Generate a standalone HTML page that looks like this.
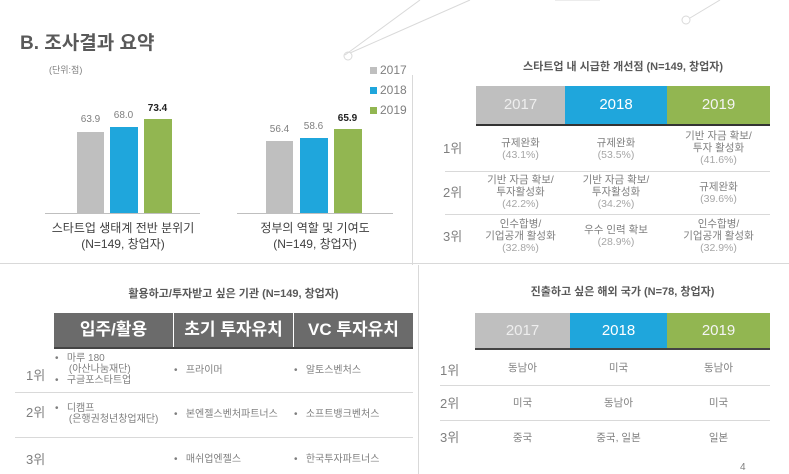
<!DOCTYPE html>
<html><head><meta charset="utf-8"><style>
*{margin:0;padding:0;box-sizing:border-box}
body{width:789px;height:474px;background:#fff;position:relative;overflow:hidden;font-family:"Liberation Sans","Noto Sans CJK KR",sans-serif;color:#595959}
.a{position:absolute;white-space:nowrap}
.c{text-align:center}
.bar{position:absolute}
.g{background:#bfbfbf}.b{background:#1fa6dc}.gr{background:#92b651}
.hl{position:absolute;height:1px;background:#d9d9d9}
.cell{position:absolute;text-align:center;font-size:10.5px;line-height:12px;color:#7f7f7f}
.cell span{color:#a6a6a6}
.hd{position:absolute;color:#fff;font-size:15px;text-align:center;line-height:38px}
.rk{position:absolute;font-size:13px;line-height:14px;color:#7f7f7f}
.bh{position:absolute;background:#6b6b6b;color:#fff;font-size:17px;font-weight:bold;text-align:center;line-height:34px;top:313px;height:34px}
.bl{position:absolute;font-size:10px;color:#7f7f7f;line-height:11px}
</style></head><body>
<svg class="a" style="left:0;top:0" width="789" height="474">
<g stroke="#d9d9d9" stroke-width="1" fill="none">
<line x1="345" y1="55" x2="420" y2="0"/><line x1="350" y1="53" x2="470" y2="0"/>
<line x1="555" y1="0" x2="600" y2="0"/><line x1="690" y1="18" x2="720" y2="0"/>
<circle cx="348" cy="56" r="4"/><circle cx="686" cy="20" r="4"/>
</g></svg>
<div class="a" style="left:20px;top:28px;font-size:19px;font-weight:bold;color:#595959">B. 조사결과 요약</div>
<div class="a" style="left:49px;top:63px;font-size:9px;color:#7f7f7f">(단위:점)</div>
<div class="a" style="left:370px;top:60px;font-size:12px;line-height:20px;color:#7f7f7f">
<div><span style="display:inline-block;width:7px;height:7px;background:#bfbfbf;margin-right:3px"></span>2017</div>
<div><span style="display:inline-block;width:7px;height:7px;background:#1fa6dc;margin-right:3px"></span>2018</div>
<div><span style="display:inline-block;width:7px;height:7px;background:#92b651;margin-right:3px"></span>2019</div></div>
<div style="position:absolute;left:412px;top:75px;width:1px;height:190px;background:#d9d9d9"></div>
<div style="position:absolute;left:418px;top:265px;width:1px;height:209px;background:#d9d9d9"></div>
<div class="hl" style="left:0;top:263px;width:789px"></div>
<!-- chart1 -->
<div class="hl" style="left:45px;top:213px;width:155px;background:#bfbfbf"></div>
<div class="bar g" style="left:77px;top:132px;width:27px;height:81px"></div>
<div class="bar b" style="left:110px;top:127px;width:28px;height:86px"></div>
<div class="bar gr" style="left:144px;top:119px;width:28px;height:94px"></div>
<div class="a c" style="left:72px;top:114px;width:37px;font-size:10px;color:#7f7f7f">63.9</div>
<div class="a c" style="left:105px;top:110px;width:37px;font-size:10px;color:#7f7f7f">68.0</div>
<div class="a c" style="left:139px;top:103px;width:37px;font-size:10px;font-weight:bold;color:#222">73.4</div>
<div class="a c" style="left:40px;top:220px;width:166px;font-size:12px;line-height:16px;color:#404040">스타트업 생태계 전반 분위기<br>(N=149, 창업자)</div>
<!-- chart2 -->
<div class="hl" style="left:237px;top:213px;width:156px;background:#bfbfbf"></div>
<div class="bar g" style="left:266px;top:141px;width:27px;height:72px"></div>
<div class="bar b" style="left:300px;top:138px;width:28px;height:75px"></div>
<div class="bar gr" style="left:334px;top:129px;width:28px;height:84px"></div>
<div class="a c" style="left:261px;top:124px;width:37px;font-size:10px;color:#7f7f7f">56.4</div>
<div class="a c" style="left:295px;top:121px;width:37px;font-size:10px;color:#7f7f7f">58.6</div>
<div class="a c" style="left:329px;top:113px;width:37px;font-size:10px;font-weight:bold;color:#222">65.9</div>
<div class="a c" style="left:232px;top:220px;width:166px;font-size:12px;line-height:16px;color:#404040">정부의 역할 및 기여도<br>(N=149, 창업자)</div>
<!-- top right -->
<div class="a c" style="left:476px;top:58px;width:294px;font-size:11px;font-weight:bold;color:#595959">스타트업 내 시급한 개선점 (N=149, 창업자)</div>
<div class="hd g" style="left:476px;top:86px;width:89px;color:#eee">2017</div>
<div class="hd b" style="left:565px;top:86px;width:102px">2018</div>
<div class="hd gr" style="left:667px;top:86px;width:103px;color:#f4f4f4">2019</div>
<div class="hl" style="left:476px;top:124px;width:294px;height:2px;background:#333"></div>
<div class="hl" style="left:445px;top:171px;width:325px"></div>
<div class="hl" style="left:445px;top:214px;width:325px"></div>
<div class="rk" style="left:443px;top:142px">1위</div>
<div class="rk" style="left:443px;top:186px">2위</div>
<div class="rk" style="left:443px;top:230px">3위</div>
<div class="cell" style="left:476px;top:137px;width:89px">규제완화<br><span>(43.1%)</span></div>
<div class="cell" style="left:565px;top:137px;width:102px">규제완화<br><span>(53.5%)</span></div>
<div class="cell" style="left:667px;top:130px;width:103px">기반 자금 확보/<br>투자 활성화<br><span>(41.6%)</span></div>
<div class="cell" style="left:476px;top:174px;width:89px">기반 자금 확보/<br>투자활성화<br><span>(42.2%)</span></div>
<div class="cell" style="left:565px;top:174px;width:102px">기반 자금 확보/<br>투자활성화<br><span>(34.2%)</span></div>
<div class="cell" style="left:667px;top:181px;width:103px">규제완화<br><span>(39.6%)</span></div>
<div class="cell" style="left:476px;top:218px;width:89px">인수합병/<br>기업공개 활성화<br><span>(32.8%)</span></div>
<div class="cell" style="left:565px;top:224px;width:102px">우수 인력 확보<br><span>(28.9%)</span></div>
<div class="cell" style="left:667px;top:218px;width:103px">인수합병/<br>기업공개 활성화<br><span>(32.9%)</span></div>
<!-- bottom left -->
<div class="a c" style="left:54px;top:285px;width:359px;font-size:11px;font-weight:bold;color:#595959">활용하고/투자받고 싶은 기관 (N=149, 창업자)</div>
<div class="bh" style="left:54px;width:119px">입주/활용</div>
<div class="bh" style="left:174px;width:119px">초기 투자유치</div>
<div class="bh" style="left:294px;width:119px">VC 투자유치</div>
<div class="hl" style="left:54px;top:347px;width:359px;height:2px;background:#444"></div>
<div class="hl" style="left:15px;top:392px;width:398px"></div>
<div class="hl" style="left:15px;top:437px;width:398px"></div>
<div class="rk" style="left:26px;top:369px">1위</div>
<div class="rk" style="left:26px;top:406px">2위</div>
<div class="rk" style="left:26px;top:453px">3위</div>
<div class="bl" style="left:55px;top:353px">•&nbsp;&nbsp;&nbsp;마루 180<br>&nbsp;&nbsp;&nbsp;&nbsp;&nbsp;(아산나눔재단)<br>•&nbsp;&nbsp;&nbsp;구글포스타트업</div>
<div class="bl" style="left:174px;top:365px">•&nbsp;&nbsp;&nbsp;프라이머</div>
<div class="bl" style="left:294px;top:365px">•&nbsp;&nbsp;&nbsp;알토스벤처스</div>
<div class="bl" style="left:55px;top:403px">•&nbsp;&nbsp;&nbsp;디캠프<br>&nbsp;&nbsp;&nbsp;&nbsp;&nbsp;(은행권청년창업재단)</div>
<div class="bl" style="left:174px;top:409px">•&nbsp;&nbsp;&nbsp;본엔젤스벤처파트너스</div>
<div class="bl" style="left:294px;top:409px">•&nbsp;&nbsp;&nbsp;소프트뱅크벤처스</div>
<div class="bl" style="left:174px;top:454px">•&nbsp;&nbsp;&nbsp;매쉬업엔젤스</div>
<div class="bl" style="left:294px;top:454px">•&nbsp;&nbsp;&nbsp;한국투자파트너스</div>
<!-- bottom right -->
<div class="a c" style="left:475px;top:283px;width:295px;font-size:11px;font-weight:bold;color:#595959">진출하고 싶은 해외 국가 (N=78, 창업자)</div>
<div class="hd g" style="left:475px;top:313px;width:95px;line-height:36px;color:#eee">2017</div>
<div class="hd b" style="left:570px;top:313px;width:97px;line-height:36px">2018</div>
<div class="hd gr" style="left:667px;top:313px;width:103px;line-height:36px;color:#f4f4f4">2019</div>
<div class="hl" style="left:475px;top:348px;width:295px;height:2px;background:#444"></div>
<div class="hl" style="left:440px;top:385px;width:330px"></div>
<div class="hl" style="left:440px;top:420px;width:330px"></div>
<div class="rk" style="left:440px;top:364px">1위</div>
<div class="rk" style="left:440px;top:397px">2위</div>
<div class="rk" style="left:440px;top:431px">3위</div>
<div class="cell" style="left:475px;top:362px;width:95px">동남아</div>
<div class="cell" style="left:570px;top:362px;width:97px">미국</div>
<div class="cell" style="left:667px;top:362px;width:103px">동남아</div>
<div class="cell" style="left:475px;top:397px;width:95px">미국</div>
<div class="cell" style="left:570px;top:397px;width:97px">동남아</div>
<div class="cell" style="left:667px;top:397px;width:103px">미국</div>
<div class="cell" style="left:475px;top:432px;width:95px">중국</div>
<div class="cell" style="left:570px;top:432px;width:97px">중국, 일본</div>
<div class="cell" style="left:667px;top:432px;width:103px">일본</div>
<div class="a" style="left:740px;top:462px;font-size:10px;color:#7f7f7f">4</div>
</body></html>
